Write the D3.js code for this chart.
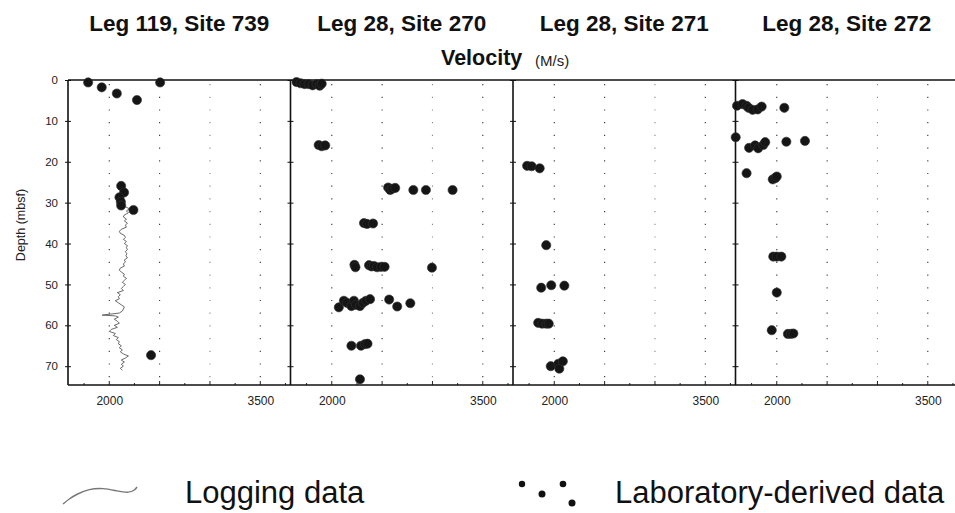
<!DOCTYPE html>
<html><head><meta charset="utf-8">
<script src="https://cdn.jsdelivr.net/npm/d3@7"></script>
<style>
html,body{margin:0;padding:0;background:#fff;}
svg{display:block;font-family:"Liberation Sans",Arial,sans-serif;}
</style></head>
<body><svg id="c" width="955" height="513"></svg>
<script>
// ---- data ----
const siteTitles = ["Leg 119, Site 739", "Leg 28, Site 270", "Leg 28, Site 271", "Leg 28, Site 272"];
const xTickLabels = [2000, 3500];
const gridValues = [2000, 2500, 3000, 3500];
const depthTicks = [0, 10, 20, 30, 40, 50, 60, 70];

// laboratory-derived velocity [velocity m/s, depth mbsf]
const lab739 = [[1790,0.6],[1925,1.8],[2075,3.3],[2275,4.9],[2505,0.6],
  [2118,25.9],[2147,27.5],[2101,28.7],[2115,29.8],[2118,30.7],[2240,31.8],[2415,67.3]];
const lab270 = [[1650,0.5],[1690,0.8],[1730,1.0],[1770,1.0],[1810,1.3],[1850,1.0],[1880,1.4],[1900,0.9],
  [1870,15.9],[1900,16.2],[1935,16.0],
  [2560,26.3],[2580,26.9],[2600,26.6],[2630,26.4],[2810,26.9],[2935,26.9],[3200,26.9],
  [2320,35.0],[2350,35.2],[2410,35.1],
  [2225,45.2],[2235,45.8],[2370,45.3],[2395,45.6],[2420,45.5],[2450,45.8],[2490,45.7],[2525,45.7],[2995,45.9],
  [2070,55.6],[2120,54.0],[2150,54.5],[2195,55.3],[2220,54.0],[2240,55.0],[2280,55.3],[2310,54.5],[2340,54.0],[2380,53.6],[2570,53.7],[2650,55.4],[2780,54.6],
  [2195,65.0],[2290,65.0],[2330,64.6],[2355,64.5],
  [2280,73.2]];
const lab271 = [[1730,21.0],[1775,21.1],[1855,21.6],
  [1920,40.4],
  [1870,50.8],[1970,50.2],[2100,50.3],
  [1840,59.4],[1880,59.6],[1920,59.6],[1945,59.6],
  [1965,70.0],[2040,69.4],[2050,70.6],[2085,68.8]];
const lab272 = [[1605,6.3],[1660,5.9],[1700,6.3],[1720,6.8],[1760,7.3],[1810,7.2],[1850,6.5],[2075,6.8],
  [1592,14.0],
  [1725,16.6],[1785,16.0],[1815,16.7],[1865,15.9],[1885,15.2],[2095,15.1],[2280,14.9],
  [1700,22.8],
  [1960,24.3],[1985,24.0],[2000,23.6],
  [1965,43.2],[2000,43.2],[2045,43.2],
  [2000,52.0],
  [1950,61.2],
  [2110,62.1],[2140,62.1],[2165,62.0]];
// logging velocity, Site 739 [velocity, depth]
const log739 = [[2160,31.0],[2200,31.5],[2170,32.0],[2190,32.5],[2150,33.0],[2140,33.5],[2170,34.0],[2150,34.5],
  [2180,35.0],[2160,35.5],[2170,36.0],[2120,36.5],[2100,37.0],[2110,37.5],[2150,38.0],[2160,38.5],
  [2140,39.0],[2170,39.5],[2150,40.0],[2180,40.5],[2170,41.0],[2180,41.5],[2160,42.0],[2175,42.5],
  [2165,43.0],[2180,43.5],[2150,44.0],[2160,44.5],[2140,45.0],[2150,45.5],[2110,46.0],[2100,46.5],
  [2120,47.0],[2150,47.5],[2140,48.0],[2170,48.5],[2150,49.0],[2130,49.5],[2160,50.0],[2140,50.5],
  [2120,51.0],[2140,51.5],[2080,52.0],[2110,52.5],[2090,53.0],[2100,53.5],[2060,54.0],[2090,54.5],
  [2120,55.0],[2150,55.5],[2140,56.0],[2130,56.5],[2100,57.0],[1930,57.5],[2060,57.7],[2090,58.0],
  [2050,58.5],[2080,59.0],[2100,59.5],[2050,60.0],[2080,60.5],[2020,61.0],[2000,61.5],[2060,62.0],
  [2040,62.5],[2090,63.0],[2070,63.5],[2100,64.0],[2090,64.5],[2120,65.0],[2100,65.5],[2130,66.0],
  [2110,66.5],[2140,67.0],[2190,67.5],[2160,68.0],[2120,68.5],[2150,69.0],[2120,69.5],[2140,70.0],
  [2110,70.5],[2130,71.0]];
const labSets = [lab739, lab270, lab271, lab272];

// ---- layout ----
const svg = d3.select("#c");
const plotLeft = 68, panelW = 222.5, plotTop = 80, plotBottom = 385;
const y = d3.scaleLinear().domain([0, 74.6]).range([plotTop, plotBottom]);
const xs = siteTitles.map((t, i) => d3.scaleLinear().domain([1590, 3800]).range([plotLeft + i * panelW, plotLeft + (i + 1) * panelW]));

xs.forEach((x, i) => {
  const g = svg.append("g");
  // dotted grid
  g.selectAll("line.grid").data(gridValues).join("line")
    .attr("x1", d => x(d)).attr("x2", d => x(d)).attr("y1", plotTop + 4).attr("y2", plotBottom)
    .attr("stroke", (d, j) => j === 2 ? "#888" : "#333").attr("stroke-width", 1.1)
    .attr("stroke-dasharray", "1.2,11.5");
  // bottom axis
  const ax = d3.axisBottom(x).tickValues(xTickLabels).tickSize(0).tickPadding(11).tickFormat(d3.format("d"));
  const ga = g.append("g").attr("transform", `translate(0,${plotBottom})`).call(ax);
  ga.select(".domain").remove();
  ga.selectAll("text").attr("font-size", 12).attr("fill", "#222").attr("font-family", "Liberation Sans, Arial, sans-serif");
  // minor ticks on bottom
  g.selectAll("line.bt").data(d3.range(1750, 3800, 250)).join("line")
    .attr("x1", d => x(d)).attr("x2", d => x(d)).attr("y1", plotBottom).attr("y2", d => plotBottom - (d % 500 === 0 ? 4 : 2))
    .attr("stroke", "#222").attr("stroke-width", 1);
  // left edge of panel with depth ticks
  const ay = d3.axisLeft(y).tickValues(depthTicks).tickSize(3).tickFormat(i === 0 ? d3.format("d") : "");
  const gy = g.append("g").attr("transform", `translate(${x.range()[0]},0)`).call(ay);
  gy.select(".domain").attr("stroke", "#111").attr("stroke-width", 1.6).attr("d", `M0,${plotTop}V${plotBottom}`);
  gy.selectAll(".tick line").attr("stroke", "#111").attr("x2", -3).attr("x1", 3);
  gy.selectAll("text").attr("font-size", 11.5).attr("fill", "#222").attr("dx", "-4")
    .attr("font-family", "Liberation Sans, Arial, sans-serif");
  // title
  svg.append("text").attr("x", (x.range()[0] + x.range()[1]) / 2).attr("y", 31)
    .attr("text-anchor", "middle").attr("font-size", 22.5).attr("font-weight", "bold").attr("fill", "#111")
    .text(siteTitles[i]);
});

// top and bottom frame
svg.append("line").attr("x1", plotLeft).attr("x2", 955).attr("y1", plotTop).attr("y2", plotTop).attr("stroke", "#111").attr("stroke-width", 1.6);
svg.append("line").attr("x1", plotLeft).attr("x2", 955).attr("y1", plotBottom).attr("y2", plotBottom).attr("stroke", "#111").attr("stroke-width", 1.6);

// logging line
svg.append("path").datum(log739)
  .attr("d", d3.line().x(d => xs[0](d[0])).y(d => y(d[1])))
  .attr("fill", "none").attr("stroke", "#444").attr("stroke-width", 0.8);

// lab dots
labSets.forEach((set, i) => {
  svg.append("g").selectAll("circle").data(set).join("circle")
    .attr("cx", d => xs[i](d[0])).attr("cy", d => y(d[1])).attr("r", 4.6)
    .attr("fill", "#151515").attr("stroke", "#333").attr("stroke-width", 0.6);
});

// axis titles
svg.append("text").attr("x", 441).attr("y", 65).attr("font-size", 21.5).attr("font-weight", "bold").attr("fill", "#111").text("Velocity");
svg.append("text").attr("x", 535).attr("y", 66).attr("font-size", 15).attr("fill", "#222").text("(M/s)");
svg.append("text").attr("transform", "translate(25,225) rotate(-90)").attr("text-anchor", "middle")
  .attr("font-size", 12.5).attr("fill", "#222").text("Depth (mbsf)");

// legend
const legSquiggle = [[0, 4], [6, -1], [14, -6], [26, -11], [40, -12], [54, -9], [66, -7], [72, -10], [74, -13]];
svg.append("path").datum(legSquiggle)
  .attr("transform", "translate(63,500)")
  .attr("d", d3.line().curve(d3.curveBasis).x(d => d[0]).y(d => d[1]))
  .attr("fill", "none").attr("stroke", "#777").attr("stroke-width", 1.4);
svg.append("text").attr("x", 185).attr("y", 503).attr("font-size", 31).attr("fill", "#111").text("Logging data");
const legDots = [[0, 0, 3.2], [20, 10, 3.5], [41, 0, 3.3], [50, 19, 3.5]];
svg.append("g").attr("transform", "translate(522,484)").selectAll("circle").data(legDots).join("circle")
  .attr("cx", d => d[0]).attr("cy", d => d[1]).attr("r", d => d[2]).attr("fill", "#111");
svg.append("text").attr("x", 615).attr("y", 503).attr("font-size", 31).attr("fill", "#111").text("Laboratory-derived data");
</script></body></html>
